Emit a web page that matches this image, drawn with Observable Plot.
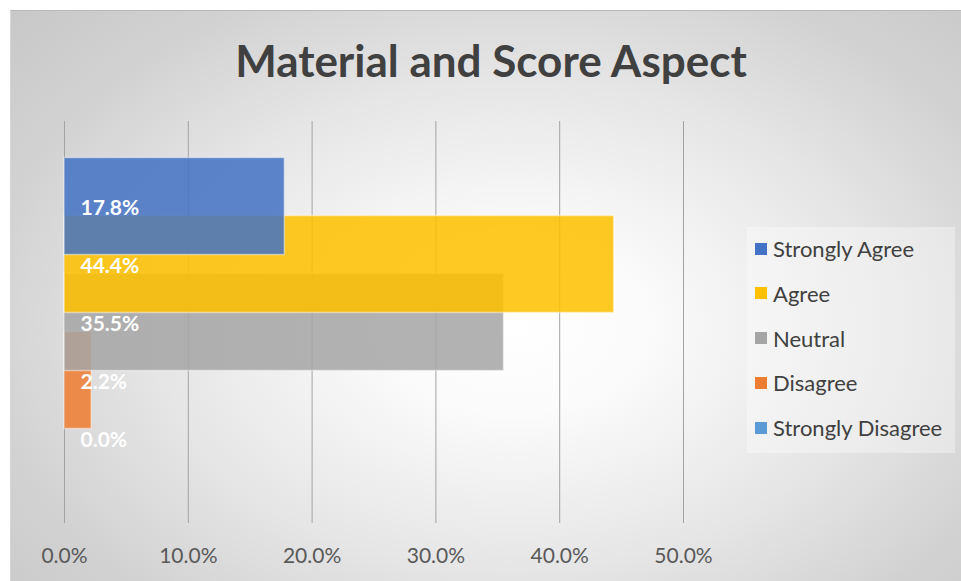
<!DOCTYPE html>
<html>
<head>
<meta charset="utf-8">
<script src="https://cdn.jsdelivr.net/npm/d3@7"></script>
<script src="https://cdn.jsdelivr.net/npm/@observablehq/plot@0.6"></script>
<style>
  html, body { margin: 0; padding: 0; background: #ffffff; }
  #wrap { position: relative; width: 961px; height: 581px; overflow: hidden; font-family: Lato, "Open Sans", sans-serif; }
  #bg { position: absolute; left: 10px; top: 10px; right: 0; bottom: 0;
        border-top: 1px solid #b8b8b8; border-left: 1px solid #d6d6d6;
        background: radial-gradient(ellipse 75% 85% at 53% 55%, #ffffff 0%, #fbfbfb 18%, #e6e6e6 50%, #d2d2d2 75%, #c6c6c6 100%); }
  #title { position: absolute; left: 0; width: 982px; top: 38px; text-align: center;
           font-size: 44px; line-height: 44px; font-weight: 700; color: #404040; }
  #legend { position: absolute; left: 747px; top: 227px; width: 208px; height: 226px;
            background: rgba(255,255,255,0.35); box-sizing: border-box; }
  .item { position: absolute; left: 8px; height: 24px; display: flex; align-items: center;
          font-size: 22px; color: #404040; white-space: nowrap; }
  .sw { width: 12px; height: 12px; margin-right: 6px; }
  #chart { position: absolute; left: 0; top: 0; }
</style>
</head>
<body>
<div id="wrap">
  <div id="bg"></div>
  <div id="chart"></div>
  <div id="title">Material and Score Aspect</div>
  <div id="legend"></div>
</div>
<script>
// Data
const categories = ["Strongly Agree", "Agree", "Neutral", "Disagree", "Strongly Disagree"];
const values = [17.8, 44.4, 35.5, 2.2, 0.0];
const colors = ["#4472C4", "#FFC000", "#A5A5A5", "#ED7D31", "#5B9BD5"];
const tickValues = [0, 10, 20, 30, 40, 50];

const data = categories.map((c, i) => ({category: c, value: values[i]}));
const drawOrder = data.slice().reverse(); // first category drawn last (on top)
const fmt = d => d.toFixed(1) + "%";

const plot = Plot.plot({
  width: 961,
  height: 581,
  marginLeft: 64,
  marginRight: 278,
  marginTop: 121,
  marginBottom: 58,
  style: {background: "transparent", fontFamily: "Lato, 'Open Sans', sans-serif", fontSize: "21px", color: "#595959", overflow: "visible"},
  x: {domain: [0, 50], ticks: tickValues, tickFormat: fmt, tickSize: 0, tickPadding: 25, label: null},
  y: {domain: categories, paddingInner: 0, paddingOuter: 0.94, axis: null},
  color: {domain: categories, range: colors},
  marks: [
    Plot.ruleX(tickValues, {stroke: "#a3a3a3", strokeWidth: 1}),
    Plot.barX(drawOrder, {x: "value", y: "category", fill: "category", fillOpacity: 0.86,
      stroke: "#ffffff", strokeOpacity: 0.45, strokeWidth: 1.5, insetTop: -19.5, insetBottom: -19.5}),
    Plot.text(data, {frameAnchor: "left", y: "category", text: d => fmt(d.value), dx: 16, dy: 2,
      textAnchor: "start", fill: "white", fontWeight: "bold", fontSize: 21})
  ]
});
document.getElementById("chart").appendChild(plot);

// Legend
const legend = document.getElementById("legend");
categories.forEach((c, i) => {
  const item = document.createElement("div");
  item.className = "item";
  item.style.top = (9.5 + i * 44.75) + "px";
  const sw = document.createElement("span");
  sw.className = "sw";
  sw.style.background = colors[i];
  item.appendChild(sw);
  const t = document.createElement("span");
  t.textContent = c;
  item.appendChild(t);
  legend.appendChild(item);
});
</script>
</body>
</html>
